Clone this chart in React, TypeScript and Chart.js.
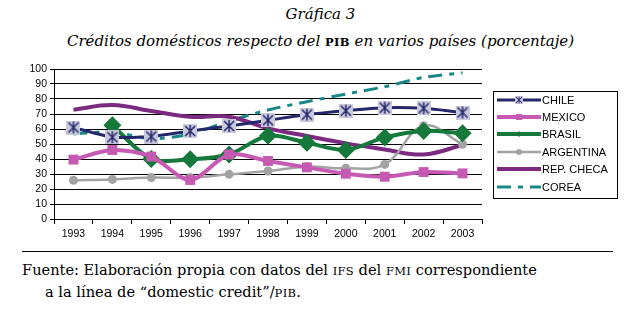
import React, { useEffect, useRef } from "react";
import { Chart, registerables } from "chart.js";

Chart.register(...registerables);

const years = ["1993", "1994", "1995", "1996", "1997", "1998", "1999", "2000", "2001", "2002", "2003"];
const chile = [61, 54.5, 55, 58.7, 62, 65.8, 69.6, 72.2, 74.2, 73.8, 71];
const mexico = [39.6, 46, 41.6, 26, 43, 38.7, 34.4, 30.2, 28.2, 31.3, 30.4];
const brasil = [null, 62.5, 40, 39.8, 43, 55.5, 50.9, 46, 54.4, 58.7, 57.1];
const argentina = [25.8, 26.4, 27.6, 27.6, 29.8, 32, 34.9, 33.8, 36.4, 62.2, 49.8];
const repCheca = [72.9, 76, 72, 68.2, 68.2, 60.4, 55.3, 50.4, 46.4, 43, 49.3];
const corea = [56.7, 58, 53.6, 56.7, 65.3, 72.7, 78.2, 83.3, 88.2, 94.4, 97.5];
const yTicks = [0, 10, 20, 30, 40, 50, 60, 70, 80, 90, 100];
const seriesNames = ["CHILE", "MEXICO", "BRASIL", "ARGENTINA", "REP. CHECA", "COREA"];

function makeStar(): HTMLCanvasElement {
  const c = document.createElement("canvas");
  c.width = 14;
  c.height = 14;
  const g = c.getContext("2d")!;
  g.fillStyle = "#C9C9DD";
  g.fillRect(0, 0, 14, 14);
  g.strokeStyle = "#25276B";
  g.lineWidth = 1.5;
  g.beginPath();
  g.moveTo(2, 2); g.lineTo(12, 12);
  g.moveTo(12, 2); g.lineTo(2, 12);
  g.moveTo(7, 1); g.lineTo(7, 13);
  g.stroke();
  return c;
}

const legendPlugin = {
  id: "boxLegend",
  afterDraw(chart: any) {
    const ctx = chart.ctx;
    const x0 = 493, y0 = 36, w = 124, h = 107;
    ctx.save();
    ctx.fillStyle = "#fff";
    ctx.fillRect(x0, y0, w, h);
    ctx.strokeStyle = "#000";
    ctx.lineWidth = 1;
    ctx.strokeRect(x0 + 0.5, y0 + 0.5, w, h);
    const rows = [45, 62, 79, 97, 114, 132];
    chart.data.datasets.forEach((ds: any, i: number) => {
      const y = rows[i];
      ctx.save();
      ctx.strokeStyle = ds.borderColor;
      ctx.lineWidth = ds.borderWidth;
      ctx.setLineDash(ds.borderDash || []);
      ctx.beginPath();
      ctx.moveTo(497, y);
      ctx.lineTo(541, y);
      ctx.stroke();
      ctx.restore();
      if (ds.pointRadius > 0) {
        const ps = ds.pointStyle;
        if (ps instanceof HTMLCanvasElement) {
          ctx.drawImage(ps, 519 - 4, y - 4, 8, 8);
        } else {
          ctx.fillStyle = ds.pointBackgroundColor;
          if (ps === "rect") ctx.fillRect(519 - 3, y - 3, 6, 6);
          else if (ps === "rectRot") {
            ctx.beginPath();
            ctx.moveTo(519, y - 3); ctx.lineTo(522, y); ctx.lineTo(519, y + 3); ctx.lineTo(516, y);
            ctx.fill();
          } else {
            ctx.beginPath();
            ctx.arc(519, y, 3, 0, Math.PI * 2);
            ctx.fill();
          }
        }
      }
      ctx.fillStyle = "#000";
      ctx.font = "11px 'Liberation Sans', Arial, sans-serif";
      ctx.textBaseline = "middle";
      ctx.fillText(ds.label, 542, y + 1);
    });
    ctx.restore();
  },
};

export default function App() {
  const ref = useRef<HTMLCanvasElement>(null);
  useEffect(() => {
    const star = makeStar();
    const chart = new Chart(ref.current!, {
      type: "line",
      data: {
        labels: years,
        datasets: [
          { label: seriesNames[0], data: chile, borderColor: "#25276B", borderWidth: 3, pointStyle: star as any, pointRadius: 7, pointBackgroundColor: "#C9C9DD", tension: 0.2 },
          { label: seriesNames[1], data: mexico, borderColor: "#C65AB2", borderWidth: 4, pointStyle: "rect", pointRadius: 7, pointBackgroundColor: "#C65AB2", pointBorderWidth: 0, tension: 0.3 },
          { label: seriesNames[2], data: brasil, borderColor: "#14793A", borderWidth: 4, pointStyle: "rectRot", pointRadius: 9, pointBackgroundColor: "#14793A", pointBorderWidth: 0, tension: 0.3 },
          { label: seriesNames[3], data: argentina, borderColor: "#A3A3A3", borderWidth: 2.5, pointStyle: "circle", pointRadius: 4.5, pointBackgroundColor: "#A3A3A3", pointBorderWidth: 0, tension: 0.4 },
          { label: seriesNames[4], data: repCheca, borderColor: "#7B2A80", borderWidth: 4, pointRadius: 0, tension: 0.4 },
          { label: seriesNames[5], data: corea, borderColor: "#178787", borderWidth: 3, borderDash: [14, 7, 5, 7], pointRadius: 0, tension: 0.3 },
        ] as any,
      },
      options: {
        animation: false,
        responsive: false,
        maintainAspectRatio: false,
        layout: { padding: { left: 20, right: 159, top: 14, bottom: 0 } },
        plugins: { legend: { display: false }, tooltip: { enabled: false } },
        scales: {
          x: {
            offset: true,
            grid: { display: true, offset: true, drawOnChartArea: false, drawTicks: true, tickLength: 5, color: "#000" },
            border: { color: "#000", width: 1 },
            ticks: { color: "#000", font: { family: "'Liberation Sans', Arial, sans-serif", size: 10.5 }, padding: 4, maxRotation: 0, autoSkip: false },
            afterFit: (s: any) => { s.height = 31; },
          },
          y: {
            min: 0,
            max: 100,
            afterBuildTicks: (s: any) => { s.ticks = yTicks.map((v) => ({ value: v })); },
            grid: { color: "#000", lineWidth: 1, drawTicks: true, tickLength: 4 },
            border: { color: "#000", width: 1 },
            ticks: { color: "#000", font: { family: "'Liberation Sans', Arial, sans-serif", size: 10.5 }, padding: 3, autoSkip: false },
            afterFit: (s: any) => { s.width = 34; },
          },
        },
      },
      plugins: [legendPlugin],
    });
    return () => chart.destroy();
  }, []);

  const serif = "'DejaVu Serif', 'Liberation Serif', serif";
  const sc = { fontSize: "11.5px", fontStyle: "normal" as const, letterSpacing: "0.3px" };
  return (
    <div style={{ position: "fixed", left: 0, top: 0, width: 641, height: 310, background: "#fff", fontFamily: serif, color: "#000" }}>
      <div style={{ position: "absolute", left: 0, width: 641, top: 5, textAlign: "center", fontStyle: "italic", fontSize: "15px", lineHeight: "18px" }}>Gráfica 3</div>
      <div style={{ position: "absolute", left: 0, width: 641, top: 32, textAlign: "center", fontStyle: "italic", fontSize: "15px", lineHeight: "18px" }}>
        Créditos domésticos respecto del <span style={{ ...sc, fontWeight: "bold" }}>PIB</span> en varios países (porcentaje)
      </div>
      <canvas ref={ref} width={641} height={195} style={{ position: "absolute", left: 0, top: 55, width: 641, height: 195 }} />
      <div style={{ position: "absolute", left: 22, top: 251, width: 591, height: 0, borderTop: "1.5px solid #000" }} />
      <div style={{ position: "absolute", left: 22, top: 259, fontSize: "14.6px", lineHeight: "22px", whiteSpace: "nowrap" }}>
        Fuente: Elaboración propia con datos del <span style={sc}>IFS</span> del <span style={sc}>FMI</span> correspondiente
      </div>
      <div style={{ position: "absolute", left: 45, top: 281, fontSize: "14.6px", lineHeight: "22px", whiteSpace: "nowrap" }}>
        a la línea de “domestic credit”/<span style={sc}>PIB</span>.
      </div>
    </div>
  );
}
